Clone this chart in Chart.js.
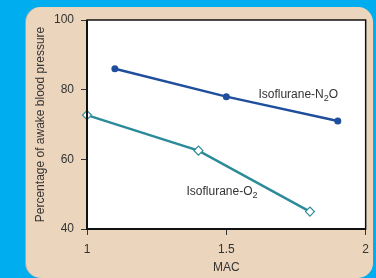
<!DOCTYPE html>
<html>
<head>
  <title>Isoflurane MAC Chart</title>
  <script src="https://cdn.jsdelivr.net/npm/chart.js"></script>
  <style>
    body { margin: 0; background: #00aeef; width: 376px; height: 278px; overflow: hidden; position: relative; }
    #panel { position: absolute; left: 26px; top: 7px; width: 347px; height: 271px;
             background: #ecd5bd; border-radius: 15px; box-shadow: -1px 0 0 #9aa; }
    #wrap { position: absolute; left: 0; top: 0; width: 376px; height: 278px; }
  </style>
</head>
<body>
  <div id="panel"></div>
  <div id="wrap"><canvas id="macChart" width="376" height="278"></canvas></div>
  <script>
    // values
    const n2oMac = [1.1, 1.5, 1.9];
    const n2oPct = [86, 78, 71];
    const o2Mac  = [1.0, 1.4, 1.8];
    const o2Pct  = [72.7, 62.5, 45];
    const xTicks = [1, 1.5, 2];
    const yTicks = [40, 60, 80, 100];

    // series labels, anchored in data units
    const seriesLabels = [
      { base: 'Isoflurane-N', sub: '2', tail: 'O', mac: 1.615, pct: 78.6 },
      { base: 'Isoflurane-O', sub: '2', tail: '',  mac: 1.357, pct: 50.6 }
    ];

    const toPoints = (xs, ys) => xs.map((x, i) => ({ x: x, y: ys[i] }));

    const plotBox = {
      id: 'plotBox',
      beforeDatasetsDraw(chart) {
        const { ctx, chartArea: a } = chart;
        ctx.save();
        ctx.fillStyle = '#fff';
        ctx.fillRect(a.left, a.top, a.right - a.left, a.bottom - a.top);
        ctx.restore();
      },
      afterDraw(chart) {
        const { ctx, chartArea: a, scales } = chart;
        ctx.save();
        ctx.strokeStyle = '#111';
        ctx.lineWidth = 1.5;
        ctx.strokeRect(a.left, a.top, a.right - a.left, a.bottom - a.top);
        ctx.lineWidth = 2;
        ctx.beginPath();
        ctx.moveTo(a.left, a.top); ctx.lineTo(a.left, a.bottom); ctx.lineTo(a.right, a.bottom);
        ctx.stroke();
        // series labels with subscript
        ctx.fillStyle = '#333';
        ctx.textBaseline = 'middle';
        seriesLabels.forEach(l => {
          let x = scales.x.getPixelForValue(l.mac);
          const y = scales.y.getPixelForValue(l.pct);
          ctx.font = '12px "Liberation Sans", Arial, sans-serif';
          ctx.fillText(l.base, x, y);
          x += ctx.measureText(l.base).width;
          ctx.font = '9px "Liberation Sans", Arial, sans-serif';
          ctx.fillText(l.sub, x, y + 3.5);
          x += ctx.measureText(l.sub).width;
          ctx.font = '12px "Liberation Sans", Arial, sans-serif';
          if (l.tail) ctx.fillText(l.tail, x, y);
        });
        ctx.restore();
      }
    };

    const ctx = document.getElementById('macChart').getContext('2d');
    const chart = new Chart(ctx, {
      type: 'line',
      data: {
        datasets: [{
          label: 'Isoflurane-N2O',
          data: toPoints(n2oMac, n2oPct),
          borderColor: '#1f4f9c',
          backgroundColor: '#1f4f9c',
          borderWidth: 2.5,
          pointRadius: 3.5,
          pointBorderWidth: 0,
          clip: false
        }, {
          label: 'Isoflurane-O2',
          data: toPoints(o2Mac, o2Pct),
          borderColor: '#2b8b98',
          backgroundColor: '#fff',
          borderWidth: 2.5,
          pointStyle: 'rectRot',
          pointRadius: 4.5,
          pointBorderWidth: 1.2,
          clip: false
        }]
      },
      options: {
        responsive: false,
        animation: false,
        layout: { padding: { left: 0, top: 20, right: 9, bottom: 0 } },
        plugins: { legend: { display: false }, tooltip: { enabled: false } },
        scales: {
          x: {
            type: 'linear',
            min: 1, max: 2,
            afterBuildTicks: s => { s.ticks = xTicks.map(v => ({ value: v })); },
            afterFit: s => { s.height = 49; },
            grid: { drawOnChartArea: false, tickLength: 6, color: '#333', tickWidth: 1 },
            border: { display: false },
            ticks: { color: '#333', padding: 7, font: { size: 12, family: '"Liberation Sans", Arial' },
                     maxRotation: 0, callback: v => String(v) },
            title: { display: true, text: 'MAC', color: '#333', padding: { bottom: 3, top: 0 },
                     font: { size: 12, family: '"Liberation Sans", Arial' } }
          },
          y: {
            min: 40, max: 100,
            afterBuildTicks: s => { s.ticks = yTicks.map(v => ({ value: v })); },
            afterFit: s => { s.width = 87; },
            grid: { drawOnChartArea: false, tickLength: 6, color: '#333', tickWidth: 1 },
            border: { display: false },
            ticks: { color: '#333', padding: 7, font: { size: 12, family: '"Liberation Sans", Arial' } },
            title: { display: true, text: 'Percentage of awake blood pressure', color: '#333',
                     padding: { top: 33, bottom: 0 },
                     font: { size: 12, family: '"Liberation Sans", Arial' } }
          }
        }
      },
      plugins: [plotBox]
    });
  </script>
</body>
</html>
